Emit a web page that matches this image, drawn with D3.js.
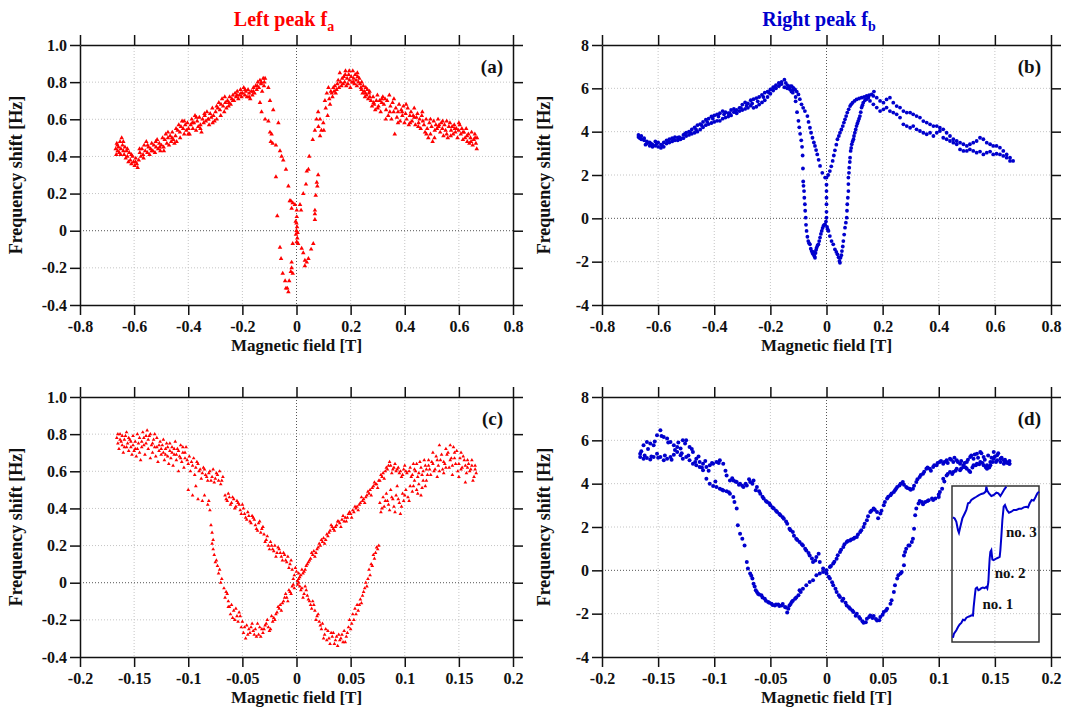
<!DOCTYPE html>
<html>
<head>
<meta charset="utf-8">
<title>frequency shift vs magnetic field</title>
<script src="https://d3js.org/d3.v7.min.js"></script>
<style>
    html,body { margin:0; background:white; }
    text { font-family:'Liberation Serif','Times New Roman',serif; font-weight:bold; fill:#111; }
</style>
</head>
<body>
<svg id="fig" width="1075" height="710"></svg>
<script>

//DATA
let xTicksWide   = [-0.8,-0.6,-0.4,-0.2,0,0.2,0.4,0.6,0.8]
let xTicksNarrow = [-0.2,-0.15,-0.1,-0.05,0,0.05,0.1,0.15,0.2]
let yTicksLeft   = [-0.4,-0.2,0,0.2,0.4,0.6,0.8,1.0]
let yTicksRight  = [-4,-2,0,2,4,6,8]
let titles = ['Left peak f','Right peak f']
let titleSubs = ['a','b']
let panelLabels = ['(a)','(b)','(c)','(d)']
let xTitle = 'Magnetic field [T]'
let yTitle = 'Frequency shift [Hz]'
let insetLabels = ['no. 1','no. 2','no. 3']

// (a) left peak, full sweep
let aPts = [
[-0.668,0.44],[-0.666,0.41],[-0.664,0.47],[-0.661,0.43],[-0.658,0.45],[-0.655,0.42],[-0.652,0.48],[-0.649,0.44],[-0.646,0.5],[-0.643,0.46],[-0.64,0.43],
[-0.637,0.41],[-0.634,0.45],[-0.631,0.39],[-0.628,0.43],[-0.625,0.4],[-0.621,0.37],[-0.618,0.42],[-0.614,0.38],[-0.61,0.36],[-0.606,0.4],[-0.602,0.37],[-0.598,0.35],[-0.594,0.39],[-0.59,0.36],[-0.587,0.34],[-0.583,0.38],
[-0.579,0.42],[-0.575,0.4],[-0.571,0.44],[-0.567,0.41],[-0.563,0.46],[-0.559,0.43],[-0.555,0.48],[-0.551,0.42],[-0.547,0.45],[-0.543,0.41],[-0.539,0.44],[-0.535,0.47],[-0.531,0.43],[-0.527,0.46],[-0.523,0.42],[-0.519,0.45],[-0.515,0.49],[-0.511,0.44],[-0.507,0.47],[-0.503,0.43],[-0.499,0.46],[-0.495,0.5],[-0.491,0.45],
[-0.487,0.49],[-0.483,0.52],[-0.479,0.47],[-0.475,0.5],[-0.471,0.46],[-0.467,0.51],[-0.463,0.48],[-0.459,0.53],[-0.455,0.49],[-0.451,0.47],[-0.447,0.51],[-0.443,0.48],
[-0.439,0.54],[-0.435,0.57],[-0.431,0.53],[-0.427,0.56],[-0.423,0.59],[-0.419,0.55],[-0.415,0.52],[-0.411,0.57],[-0.407,0.54],[-0.403,0.58],[-0.399,0.55],[-0.395,0.52],
[-0.391,0.57],[-0.387,0.6],[-0.383,0.55],[-0.379,0.58],[-0.375,0.62],[-0.371,0.54],[-0.367,0.59],[-0.363,0.56],[-0.359,0.61],[-0.355,0.57],[-0.351,0.53],[-0.347,0.6],[-0.343,0.58],
[-0.339,0.62],[-0.335,0.59],[-0.331,0.64],[-0.327,0.6],[-0.323,0.57],[-0.319,0.63],[-0.315,0.61],[-0.311,0.66],[-0.307,0.62],[-0.303,0.59],[-0.299,0.64],[-0.295,0.6],
[-0.291,0.66],[-0.287,0.69],[-0.283,0.65],[-0.279,0.68],[-0.275,0.71],[-0.271,0.67],[-0.267,0.64],[-0.263,0.69],[-0.259,0.66],[-0.255,0.7],[-0.251,0.67],[-0.247,0.72],[-0.243,0.68],
[-0.239,0.71],[-0.235,0.73],[-0.231,0.7],[-0.227,0.74],[-0.223,0.72],[-0.219,0.75],[-0.215,0.71],[-0.211,0.73],[-0.207,0.76],[-0.203,0.72],
[-0.199,0.74],[-0.195,0.77],[-0.191,0.73],[-0.187,0.75],[-0.183,0.72],[-0.179,0.76],[-0.175,0.74],[-0.171,0.71],[-0.167,0.75],[-0.163,0.73],[-0.159,0.77],[-0.155,0.74],
[-0.151,0.78],[-0.147,0.76],[-0.143,0.8],[-0.139,0.77],[-0.135,0.81],[-0.131,0.79],[-0.127,0.75],[-0.123,0.82],[-0.119,0.8],[-0.116,0.82],
[-0.662,0.46],[-0.65,0.41],[-0.64,0.48],[-0.625,0.44],[-0.61,0.41],[-0.595,0.37],[-0.58,0.44],[-0.565,0.39],[-0.55,0.46],[-0.535,0.43],[-0.52,0.48],
[-0.505,0.45],[-0.49,0.43],[-0.475,0.53],[-0.46,0.5],[-0.445,0.55],[-0.43,0.5],[-0.415,0.59],[-0.4,0.52],[-0.385,0.58],[-0.37,0.61],[-0.355,0.55],
[-0.34,0.63],[-0.325,0.6],[-0.31,0.58],[-0.295,0.67],[-0.28,0.62],[-0.265,0.72],[-0.25,0.69],[-0.235,0.7],[-0.22,0.73],[-0.205,0.74],[-0.19,0.76],
[-0.175,0.72],[-0.16,0.75],[-0.145,0.78],[-0.13,0.8],[-0.12,0.78],
[-0.104,0.77],[-0.098,0.7],[-0.135,0.69],[-0.129,0.64],[-0.116,0.6],[-0.104,0.59],[-0.086,0.65],[-0.067,0.58],[-0.098,0.53],[-0.092,0.52],[-0.095,0.48],
[-0.088,0.47],[-0.076,0.46],[-0.061,0.43],[-0.055,0.4],[-0.049,0.38],[-0.039,0.33],[-0.076,0.29],[-0.03,0.24],[-0.021,0.16],[-0.014,0.15],[-0.006,0.14],
[-0.018,0.12],[0.001,0.11],[0.013,0.14],[0.017,0.11],[0.001,0.075],[0.0,0.04],[0.002,0.02],[0.0,0.0],[-0.002,-0.02],[0.003,-0.04],[0.001,-0.06],[0.006,-0.07],
[-0.014,-0.07],[0.019,-0.095],[0.025,-0.12],[0.031,-0.16],[0.031,-0.19],[0.038,-0.17],[0.044,-0.15],[0.054,-0.1],[0.062,-0.07],[0.004,-0.01],[-0.003,0.05],
[-0.061,-0.09],[-0.057,-0.15],[-0.051,-0.23],[-0.042,-0.27],[-0.034,-0.31],[-0.03,-0.33],[-0.039,-0.31],[-0.027,-0.27],[-0.021,-0.22],[-0.018,-0.2],[-0.018,-0.17],
[-0.071,0.08],[-0.025,0.16],[-0.014,-0.23],
[0.047,0.4],[0.038,0.32],[0.044,0.33],[0.035,0.25],[0.025,0.2],[0.06,0.49],[0.068,0.54],[0.074,0.6],[0.08,0.64],[0.081,0.56],[0.087,0.51],[0.087,0.6],
[0.092,0.54],[0.099,0.58],[0.101,0.54],[0.08,0.3],[0.075,0.26],[0.077,0.24],[0.071,0.19],[0.068,0.11],[0.068,0.09],[0.068,0.06],
[0.105,0.7],[0.108,0.66],[0.112,0.74],[0.115,0.62],[0.118,0.77],[0.121,0.71],[0.124,0.68],[0.127,0.75],[0.13,0.74],[0.133,0.72],[0.136,0.77],
[0.139,0.75],[0.142,0.78],[0.145,0.74],[0.148,0.76],[0.151,0.79],[0.154,0.81],[0.157,0.77],[0.16,0.85],[0.163,0.8],[0.166,0.78],[0.169,0.82],[0.172,0.79],
[0.175,0.83],[0.178,0.8],[0.181,0.86],[0.184,0.78],[0.187,0.82],[0.19,0.79],[0.193,0.84],[0.196,0.81],[0.199,0.77],[0.202,0.83],[0.205,0.8],[0.208,0.86],
[0.211,0.82],[0.214,0.79],[0.217,0.84],[0.22,0.81],[0.223,0.78],[0.226,0.83],[0.229,0.8],[0.232,0.82],[0.235,0.79],
[0.238,0.77],[0.241,0.8],[0.244,0.74],[0.247,0.78],[0.25,0.75],[0.253,0.72],[0.256,0.77],[0.259,0.73],[0.262,0.76],[0.265,0.71],[0.268,0.74],[0.271,0.72],
[0.275,0.7],[0.279,0.67],[0.283,0.72],[0.287,0.68],[0.291,0.65],[0.295,0.7],[0.299,0.73],[0.303,0.67],[0.307,0.7],[0.311,0.64],[0.315,0.69],[0.319,0.72],
[0.323,0.68],[0.327,0.71],[0.331,0.65],[0.335,0.7],[0.339,0.62],[0.343,0.73],[0.347,0.67],[0.351,0.6],[0.355,0.69],[0.359,0.64],[0.363,0.52],[0.367,0.66],[0.371,0.61],
[0.375,0.64],[0.379,0.68],[0.383,0.59],[0.387,0.65],[0.391,0.62],[0.395,0.67],[0.399,0.58],[0.403,0.63],[0.407,0.6],[0.411,0.66],[0.415,0.57],[0.419,0.62],
[0.423,0.64],[0.427,0.59],[0.431,0.62],[0.435,0.66],[0.439,0.57],[0.443,0.61],[0.447,0.63],[0.451,0.58],[0.455,0.6],[0.459,0.55],[0.463,0.62],[0.467,0.59],
[0.471,0.57],[0.475,0.53],[0.479,0.6],[0.483,0.55],[0.487,0.5],[0.491,0.58],[0.495,0.52],[0.499,0.56],[0.503,0.48],[0.507,0.59],[0.511,0.54],[0.515,0.57],
[0.519,0.55],[0.523,0.6],[0.527,0.57],[0.531,0.53],[0.535,0.58],[0.539,0.55],[0.543,0.51],[0.547,0.57],[0.551,0.54],[0.555,0.59],[0.559,0.5],[0.563,0.56],
[0.567,0.58],[0.571,0.54],[0.575,0.56],[0.579,0.52],[0.583,0.57],[0.587,0.53],[0.591,0.55],[0.595,0.5],[0.599,0.54],[0.603,0.57],[0.607,0.52],[0.611,0.55],[0.615,0.49],
[0.619,0.53],[0.623,0.5],[0.627,0.55],[0.631,0.48],[0.635,0.52],[0.639,0.47],[0.643,0.5],[0.647,0.53],[0.651,0.46],[0.655,0.49],[0.659,0.52],[0.663,0.47],[0.666,0.44],[0.667,0.5],
[0.18,0.84],[0.195,0.86],[0.21,0.8],[0.225,0.85],[0.24,0.76],[0.255,0.74],[0.27,0.75],[0.285,0.69],[0.3,0.66],[0.315,0.71],[0.33,0.6],[0.345,0.64],
[0.36,0.71],[0.375,0.58],[0.39,0.64],[0.405,0.68],[0.42,0.58],[0.435,0.61],[0.45,0.56],[0.465,0.64],[0.48,0.52],[0.495,0.6],[0.51,0.5],[0.525,0.56],
[0.54,0.59],[0.555,0.52],[0.57,0.51],[0.585,0.55],[0.6,0.58],[0.615,0.53],[0.63,0.51],[0.645,0.48],[0.66,0.5]
]

// (b) right peak, full sweep (two passes)
let bPts = [
[-0.67,3.85],[-0.67,3.75],[-0.66,3.8],[-0.66,3.65],[-0.65,3.6],[-0.65,3.7],[-0.64,3.45],[-0.64,3.55],[-0.63,3.35],[-0.63,3.5],[-0.62,3.4],[-0.62,3.3],
[-0.61,3.55],[-0.61,3.35],[-0.6,3.5],[-0.6,3.3],[-0.59,3.25],[-0.59,3.4],[-0.58,3.3],[-0.58,3.5],[-0.57,3.6],[-0.57,3.45],[-0.56,3.65],[-0.56,3.5],
[-0.55,3.7],[-0.55,3.55],[-0.54,3.75],[-0.54,3.6],[-0.53,3.72],[-0.53,3.6],[-0.52,3.7],[-0.52,3.65],[-0.51,3.85],[-0.51,3.7],[-0.5,3.95],[-0.5,3.8],
[-0.49,4.0],[-0.49,3.85],[-0.48,4.1],[-0.48,3.9],[-0.47,4.2],[-0.47,3.95],[-0.46,4.3],[-0.46,4.0],[-0.45,4.35],[-0.45,4.1],[-0.44,4.45],[-0.44,4.2],
[-0.43,4.55],[-0.43,4.3],[-0.42,4.6],[-0.42,4.35],[-0.41,4.7],[-0.41,4.4],[-0.4,4.75],[-0.4,4.45],[-0.39,4.8],[-0.39,4.5],[-0.38,4.85],[-0.38,4.5],
[-0.37,4.95],[-0.37,4.6],[-0.36,4.9],[-0.36,4.65],[-0.35,4.85],[-0.35,4.7],[-0.34,5.0],[-0.34,4.75],[-0.33,5.05],[-0.33,4.9],[-0.32,5.0],[-0.32,4.85],
[-0.31,5.1],[-0.31,4.95],[-0.3,5.25],[-0.3,5.0],[-0.29,5.35],[-0.29,5.05],[-0.28,5.3],[-0.28,5.1],[-0.27,5.45],[-0.27,5.2],[-0.26,5.5],[-0.26,5.1],
[-0.25,5.55],[-0.25,5.15],[-0.24,5.6],[-0.24,5.25],[-0.23,5.7],[-0.23,5.35],[-0.22,5.8],[-0.22,5.45],[-0.21,5.85],[-0.21,5.6],[-0.2,5.95],[-0.2,5.75],
[-0.19,6.05],[-0.19,5.9],[-0.18,6.15],[-0.18,6.0],[-0.17,6.25],[-0.17,6.1],[-0.16,6.2],[-0.16,6.3],[-0.15,6.4],[-0.15,6.05],[-0.14,6.15],[-0.14,6.0],
[-0.13,6.1],[-0.13,5.95],[-0.12,5.8],[-0.12,5.9],[-0.11,5.4],[-0.11,5.6],
[-0.665,3.7],[-0.645,3.4],[-0.625,3.45],[-0.605,3.45],[-0.585,3.35],[-0.565,3.55],[-0.545,3.65],[-0.525,3.75],[-0.505,3.9],[-0.485,3.95],[-0.465,4.1],
[-0.445,4.3],[-0.425,4.45],[-0.405,4.6],[-0.385,4.7],[-0.365,4.8],[-0.345,4.85],[-0.325,4.95],[-0.305,5.1],[-0.285,5.2],[-0.265,5.3],[-0.245,5.4],
[-0.225,5.6],[-0.205,5.8],[-0.185,6.05],[-0.165,6.2],[-0.145,6.25],[-0.135,6.05],[-0.125,5.85],
[-0.105,4.9],[-0.1,4.5],[-0.097,4.2],[-0.094,3.9],[-0.09,3.6],[-0.087,3.3],[-0.085,2.9],[-0.084,2.3],[-0.083,1.7],[-0.082,1.5],[-0.08,1.26],[-0.079,0.95],
[-0.077,0.65],[-0.076,0.35],[-0.074,0.03],[-0.073,-0.3],[-0.071,-0.58],[-0.068,-0.85],[-0.065,-1.05],[-0.062,-1.15],[-0.059,-1.2],[-0.056,-1.4],[-0.053,-1.51],
[-0.05,-1.6],[-0.047,-1.66],[-0.045,-1.55],[-0.043,-1.75],[-0.041,-1.82],[-0.039,-1.6],[-0.037,-1.45],[-0.035,-1.35],[-0.032,-1.25],[-0.029,-1.2],[-0.026,-1.05],
[-0.023,-0.89],[-0.02,-0.72],[-0.017,-0.58],[-0.014,-0.45],[-0.011,-0.35],[-0.008,-0.3],[-0.005,-0.28],[-0.002,-0.15],[0,0.03],[0,0.3],[0,0.65],[0,0.95],
[0,1.26],[0,1.55],[0,1.88],[0.002,-0.4],[0.004,-0.5],
[-0.124,6.1],[-0.118,6.02],[-0.112,5.95],[-0.106,5.85],[-0.1,5.72],[-0.095,5.5],[-0.089,5.26],[-0.083,5.1],[-0.077,4.95],[-0.068,4.72],[-0.064,4.45],
[-0.059,4.18],[-0.055,3.95],[-0.05,3.72],[-0.045,3.5],[-0.041,3.34],[-0.037,3.15],[-0.033,2.95],[-0.028,2.7],[-0.023,2.42],[-0.015,2.1],[-0.005,1.88],
[0.006,2.0],[0.012,2.18],[0.017,2.4],[0.022,2.65],[0.026,2.9],[0.03,3.14],[0.035,3.4],[0.039,3.65],[0.044,3.8],[0.048,3.95],[0.053,4.1],[0.058,4.26],
[0.062,4.42],[0.066,4.57],[0.07,4.72],[0.074,4.88],[0.079,5.03],[0.084,5.18],[0.088,5.26],[0.093,5.34],[0.1,5.42],[0.107,5.49],[0.116,5.53],[0.125,5.57],
[0.134,5.6],[0.143,5.65],[0.152,5.68],[0.161,5.72],[0.169,5.85],
[0.007,-0.58],[0.012,-0.82],[0.018,-1.05],[0.024,-1.2],[0.03,-1.43],[0.035,-1.55],[0.039,-1.66],[0.043,-1.8],[0.046,-1.97],[0.048,-2.05],[0.05,-1.82],
[0.053,-1.7],[0.055,-1.51],[0.058,-1.3],[0.06,-1.05],[0.063,-0.75],[0.066,-0.43],[0.069,-0.2],[0.072,0.03],[0.073,0.35],[0.074,0.65],[0.076,0.95],
[0.078,1.26],[0.078,1.58],[0.078,1.88],[0.08,2.1],[0.081,2.34],[0.083,2.6],[0.084,2.8],[0.086,3.11],[0.088,3.25],[0.09,3.42],[0.093,3.55],[0.096,3.65],
[0.098,3.8],[0.101,3.95],[0.104,4.1],[0.107,4.26],[0.11,4.38],[0.113,4.49],[0.116,4.6],[0.119,4.72],[0.122,4.9],[0.125,5.11],[0.128,5.22],[0.131,5.34],
[0.137,5.45],[0.143,5.5],[0.149,5.57],
[0.167,5.65],[0.179,5.57],[0.191,5.42],[0.203,5.34],[0.214,5.49],[0.226,5.57],[0.238,5.34],[0.25,5.18],[0.262,5.11],[0.274,4.95],[0.286,4.88],[0.298,4.88],
[0.309,4.8],[0.321,4.72],[0.333,4.65],[0.345,4.49],[0.357,4.42],[0.369,4.34],[0.381,4.26],[0.393,4.26],[0.404,4.18],[0.416,4.11],[0.428,3.95],[0.44,3.8],
[0.452,3.65],[0.464,3.57],[0.476,3.49],[0.488,3.42],[0.5,3.34],[0.511,3.42],[0.523,3.49],[0.535,3.57],[0.547,3.72],[0.559,3.65],[0.571,3.49],[0.583,3.42],
[0.594,3.34],[0.606,3.34],[0.618,3.26],[0.63,3.11],[0.642,2.95],[0.654,2.8],[0.665,2.65],
[0.155,5.42],[0.167,5.26],[0.179,5.11],[0.191,4.95],[0.203,5.03],[0.214,5.11],[0.226,4.95],[0.238,4.88],[0.25,4.8],[0.262,4.65],[0.274,4.34],[0.286,4.26],
[0.298,4.18],[0.309,4.26],[0.321,4.11],[0.333,4.03],[0.345,3.95],[0.357,3.88],[0.369,3.95],[0.381,3.8],[0.393,3.95],[0.404,4.03],[0.416,3.72],[0.428,3.65],
[0.44,3.57],[0.452,3.49],[0.464,3.42],[0.476,3.18],[0.488,3.11],[0.5,3.11],[0.511,3.18],[0.523,3.11],[0.535,3.03],[0.547,3.08],[0.559,2.95],[0.571,3.03],
[0.583,3.08],[0.594,2.95],[0.606,2.98],[0.618,2.95],[0.63,2.88],[0.642,2.8],[0.654,2.65]
]

// (c) left peak, narrow sweep
let cPts = [
[-0.166,0.78],[-0.165,0.75],[-0.164,0.72],[-0.163,0.8],[-0.162,0.76],[-0.161,0.74],[-0.16,0.7],[-0.159,0.77],[-0.158,0.79],[-0.157,0.73],[-0.156,0.75],
[-0.155,0.71],[-0.154,0.77],[-0.153,0.73],[-0.152,0.69],[-0.151,0.74],[-0.15,0.71],[-0.149,0.76],[-0.148,0.68],[-0.147,0.72],[-0.146,0.75],[-0.145,0.7],
[-0.144,0.66],[-0.143,0.73],[-0.142,0.81],[-0.141,0.78],[-0.14,0.69],[-0.139,0.75],[-0.138,0.82],[-0.137,0.72],[-0.136,0.79],[-0.135,0.67],[-0.134,0.74],
[-0.133,0.7],[-0.132,0.77],[-0.131,0.8],[-0.13,0.68],[-0.129,0.73],[-0.128,0.65],[-0.127,0.71],[-0.126,0.76],[-0.125,0.69],[-0.124,0.74],[-0.123,0.7],
[-0.122,0.66],[-0.121,0.72],[-0.12,0.75],[-0.119,0.68],[-0.118,0.64],[-0.117,0.71],[-0.116,0.67],[-0.115,0.73],[-0.114,0.63],[-0.113,0.69],[-0.112,0.76],
[-0.111,0.66],[-0.11,0.72],[-0.109,0.6],[-0.108,0.68],[-0.107,0.74],[-0.106,0.65],[-0.105,0.7],[-0.104,0.62],[-0.103,0.67],[-0.102,0.73],
[-0.165,0.8],[-0.163,0.77],[-0.161,0.79],[-0.159,0.73],[-0.157,0.81],[-0.155,0.78],[-0.153,0.76],[-0.151,0.79],[-0.149,0.72],[-0.147,0.8],[-0.145,0.78],
[-0.143,0.76],[-0.141,0.74],[-0.139,0.79],[-0.137,0.77],[-0.135,0.8],[-0.133,0.75],[-0.131,0.73],[-0.129,0.78],[-0.127,0.74],[-0.125,0.72],[-0.123,0.77],
[-0.121,0.69],[-0.119,0.73],[-0.117,0.75],[-0.115,0.7],[-0.113,0.72],[-0.111,0.69],[-0.109,0.71],[-0.107,0.67],[-0.105,0.73],[-0.103,0.7],[-0.101,0.66],
[-0.099,0.68],[-0.097,0.65],[-0.095,0.67],[-0.093,0.62],[-0.091,0.64],[-0.089,0.61],[-0.087,0.59],[-0.085,0.61],[-0.083,0.57],[-0.081,0.59],[-0.079,0.55],
[-0.077,0.61],[-0.075,0.56],[-0.073,0.58],[-0.071,0.6],[-0.069,0.55],
[-0.1,0.64],[-0.098,0.6],[-0.096,0.63],[-0.094,0.58],[-0.092,0.65],[-0.09,0.6],[-0.088,0.56],[-0.086,0.62],[-0.084,0.58],[-0.082,0.55],[-0.08,0.6],
[-0.078,0.57],[-0.076,0.54],[-0.074,0.59],[-0.072,0.55],[-0.07,0.53],[-0.068,0.57],[-0.066,0.47],[-0.064,0.44],[-0.062,0.46],[-0.06,0.43],[-0.058,0.45],
[-0.056,0.41],[-0.054,0.43],[-0.052,0.39],[-0.05,0.42],[-0.048,0.37],[-0.046,0.34],[-0.044,0.36],[-0.042,0.32],[-0.04,0.35],[-0.038,0.31],[-0.036,0.28],
[-0.034,0.33],[-0.032,0.29],[-0.03,0.26],[-0.028,0.23],[-0.026,0.2],[-0.024,0.22],[-0.022,0.18],[-0.02,0.2],[-0.018,0.16],[-0.016,0.18],[-0.014,0.14],
[-0.012,0.16],[-0.01,0.12],[-0.008,0.14],[-0.006,0.1],[-0.004,0.07],[-0.002,0.04],[0.0,0.06],[0.002,0.0],[0.003,-0.02],
[-0.065,0.45],[-0.063,0.48],[-0.061,0.42],[-0.059,0.46],[-0.057,0.4],[-0.055,0.44],[-0.053,0.42],[-0.051,0.37],[-0.049,0.4],[-0.047,0.35],[-0.045,0.38],
[-0.043,0.33],[-0.041,0.36],[-0.039,0.34],[-0.037,0.29],[-0.035,0.32],[-0.033,0.27],[-0.031,0.3],[-0.029,0.22],[-0.027,0.25],[-0.025,0.18],[-0.023,0.2],
[-0.021,0.17],[-0.019,0.14],[-0.017,0.19],[-0.015,0.16],[-0.013,0.12],[-0.011,0.15],[-0.009,0.11],[-0.007,0.08],[-0.005,0.12],[-0.003,0.02],[-0.001,0.08],
[0.001,-0.01],[0.002,0.05],[0.004,-0.04],[0.006,-0.08],[0.008,-0.02],[0.01,-0.07],[0.012,-0.1],[0.014,-0.14],[0.016,-0.12],[0.018,-0.2],[0.02,-0.17],
[0.022,-0.23],[0.025,-0.3],[0.027,-0.25],[0.03,-0.3],[0.032,-0.27],[0.035,-0.33],[0.037,-0.29],[0.04,-0.31],[0.042,-0.28],[0.045,-0.32],[0.047,-0.27],
[0.05,-0.25],[0.053,-0.2],[0.055,-0.17],[0.058,-0.12],[0.06,-0.11],[0.062,-0.05],[0.065,-0.02],[0.067,0.07],[0.069,0.1],[0.071,0.15],[0.074,0.19],
[0.005,-0.03],[0.007,-0.06],[0.009,-0.04],[0.011,-0.09],[0.013,-0.12],[0.015,-0.1],[0.017,-0.15],[0.019,-0.18],[0.021,-0.21],[0.023,-0.25],[0.024,-0.22],
[0.026,-0.28],[0.028,-0.31],[0.029,-0.26],[0.031,-0.33],[0.033,-0.29],[0.034,-0.27],[0.036,-0.31],[0.038,-0.34],[0.039,-0.28],[0.041,-0.3],[0.043,-0.32],
[0.044,-0.26],[0.046,-0.29],[0.048,-0.24],[0.049,-0.2],[0.051,-0.22],[0.052,-0.17],[0.054,-0.14],[0.056,-0.12],[0.057,-0.15],[0.059,-0.09],[0.061,-0.07],
[0.063,-0.03],[0.064,0.0],[0.066,0.02],[0.068,0.04],[0.07,0.09],[0.072,0.13],[0.073,0.16],[0.075,0.18],[0.076,0.2],
[-0.1,0.5],[-0.096,0.47],[-0.093,0.52],[-0.091,0.45],[-0.087,0.44],[-0.085,0.47],[-0.082,0.42],[-0.08,0.39],[-0.079,0.31],[-0.078,0.21],[-0.077,0.18],
[-0.076,0.15],[-0.075,0.11],[-0.073,0.09],[-0.071,0.07],[-0.069,0.02],[-0.067,-0.03],[-0.065,-0.05],[-0.064,-0.06],[-0.063,-0.1],[-0.062,-0.13],[-0.061,-0.17],
[-0.059,-0.19],[-0.058,-0.15],[-0.056,-0.14],[-0.055,-0.18],[-0.053,-0.16],[-0.052,-0.18],[-0.05,-0.21],[-0.048,-0.24],[-0.047,-0.3],[-0.046,-0.23],[-0.044,-0.25],
[-0.043,-0.27],[-0.041,-0.22],[-0.04,-0.26],[-0.038,-0.25],[-0.037,-0.29],[-0.035,-0.28],[-0.034,-0.24],[-0.032,-0.25],[-0.031,-0.27],[-0.029,-0.23],
[-0.027,-0.2],[-0.025,-0.26],[-0.024,-0.25],[-0.022,-0.21],[-0.021,-0.19],[-0.019,-0.17],[-0.018,-0.16],[-0.016,-0.14],[-0.015,-0.12],[-0.013,-0.11],
[-0.012,-0.1],[-0.01,-0.06],[-0.009,-0.08],[-0.007,-0.04],[-0.006,-0.05],[-0.004,-0.02],[-0.002,-0.03],[0.001,0.01],[0.003,0.03],[0.004,0.04],
[-0.081,0.44],[-0.078,0.27],[-0.077,0.23],[-0.074,0.12],[-0.072,0.05],[-0.07,0.0],[-0.066,-0.08],[-0.063,-0.13],[-0.06,-0.12],[-0.057,-0.2],[-0.054,-0.21],
[-0.051,-0.24],[-0.049,-0.27],[-0.045,-0.28],[-0.042,-0.24],[-0.039,-0.28],[-0.036,-0.22],[-0.033,-0.29],[-0.03,-0.25],[-0.028,-0.22],[-0.026,-0.24],
[-0.023,-0.18],[-0.02,-0.2],[-0.017,-0.13],[-0.014,-0.15],[-0.011,-0.08],[-0.008,-0.1],[-0.005,-0.06],[-0.003,-0.01],[0.002,0.02],[0.005,0.07],
[0.008,0.07],[0.011,0.11],[0.014,0.16],[0.017,0.14],[0.02,0.19],[0.023,0.23],[0.026,0.21],[0.029,0.25],[0.032,0.31],[0.035,0.28],[0.038,0.33],
[0.041,0.3],[0.043,0.36],[0.046,0.33],[0.049,0.38],[0.051,0.35],[0.054,0.41],[0.057,0.39],[0.06,0.46],[0.063,0.43],[0.066,0.49],[0.069,0.47],
[0.072,0.54],[0.075,0.51],[0.078,0.58],[0.081,0.56],[0.084,0.61],[0.086,0.65],[0.088,0.59],[0.091,0.64],[0.094,0.62],[0.097,0.57],[0.1,0.63],
[0.006,0.05],[0.007,0.06],[0.009,0.09],[0.01,0.1],[0.012,0.12],[0.013,0.13],[0.015,0.15],[0.016,0.17],[0.018,0.16],[0.019,0.18],[0.021,0.21],[0.022,0.2],
[0.024,0.22],[0.025,0.24],[0.027,0.23],[0.028,0.26],[0.03,0.27],[0.031,0.28],[0.033,0.3],[0.034,0.29],[0.036,0.3],[0.037,0.31],[0.039,0.33],[0.04,0.32],
[0.042,0.34],[0.044,0.33],[0.045,0.35],[0.047,0.35],[0.048,0.37],[0.05,0.37],[0.052,0.39],[0.053,0.38],[0.055,0.4],[0.056,0.41],[0.058,0.42],[0.059,0.43],
[0.061,0.44],[0.062,0.45],[0.064,0.46],[0.065,0.47],[0.067,0.48],[0.068,0.5],[0.07,0.51],[0.071,0.52],[0.073,0.53],[0.074,0.53],[0.076,0.55],[0.077,0.55],
[0.079,0.57],[0.08,0.59],[0.082,0.6],[0.083,0.62],[0.085,0.63],[0.087,0.63],[0.089,0.61],[0.09,0.62],[0.092,0.6],[0.093,0.61],[0.095,0.59],[0.096,0.6],
[0.098,0.58],[0.099,0.61],[0.101,0.6],[0.102,0.59],[0.104,0.6],
[0.077,0.43],[0.078,0.38],[0.08,0.46],[0.081,0.41],[0.083,0.48],[0.084,0.44],[0.086,0.39],[0.087,0.5],[0.089,0.45],[0.09,0.41],[0.092,0.47],[0.093,0.52],
[0.095,0.43],[0.096,0.37],[0.098,0.48],[0.099,0.44],[0.101,0.5],[0.103,0.46],[0.105,0.52],[0.107,0.49],[0.109,0.55],[0.111,0.5],[0.113,0.53],[0.115,0.47],
[0.117,0.55],[0.119,0.52],
[0.079,0.4],[0.082,0.44],[0.085,0.42],[0.088,0.46],[0.091,0.38],[0.094,0.45],[0.097,0.41],[0.1,0.47],[0.104,0.44],[0.108,0.52],[0.112,0.48],[0.116,0.51],[0.12,0.55],
[0.105,0.62],[0.107,0.58],[0.109,0.61],[0.111,0.64],[0.113,0.59],[0.115,0.62],[0.117,0.6],[0.119,0.63],[0.121,0.58],[0.123,0.61],[0.125,0.65],[0.127,0.6],
[0.129,0.68],[0.131,0.63],[0.133,0.66],[0.135,0.61],[0.137,0.64],[0.139,0.69],[0.141,0.62],[0.143,0.67],[0.145,0.73],[0.147,0.64],[0.149,0.6],[0.151,0.67],
[0.153,0.62],[0.155,0.66],[0.157,0.59],[0.159,0.64],[0.161,0.61],[0.163,0.55],[0.165,0.63],[0.166,0.59],[0.122,0.66],[0.126,0.7],[0.132,0.74],[0.138,0.72],
[0.142,0.74],[0.146,0.7],[0.152,0.7],[0.158,0.62],[0.162,0.66],[0.13,0.57],[0.136,0.59],[0.144,0.58],[0.15,0.57],[0.156,0.54],
[0.106,0.57],[0.108,0.64],[0.11,0.6],[0.112,0.57],[0.114,0.65],[0.116,0.58],[0.118,0.66],[0.12,0.61],[0.122,0.63],[0.124,0.58],[0.126,0.64],[0.128,0.61],
[0.13,0.66],[0.132,0.6],[0.134,0.69],[0.136,0.65],[0.138,0.62],[0.14,0.7],[0.142,0.66],[0.144,0.63],[0.146,0.67],[0.148,0.71],[0.15,0.64],[0.152,0.61],
[0.154,0.68],[0.156,0.63],[0.158,0.66],[0.16,0.6],[0.162,0.63],[0.164,0.57],[0.165,0.61]
]

// (d) right peak, narrow sweep (two passes)
let dPts = [
[-0.166,5.38],[-0.163,5.77],[-0.16,5.92],[-0.157,5.85],[-0.154,5.77],[-0.151,6.23],[-0.148,6.46],[-0.145,6.15],[-0.142,6.08],[-0.139,5.92],[-0.136,5.77],
[-0.133,5.69],[-0.13,5.62],[-0.128,6.0],[-0.125,6.0],[-0.122,5.69],[-0.119,5.46],[-0.116,5.15],[-0.113,5.0],[-0.11,4.92],[-0.107,4.77],[-0.104,4.85],
[-0.101,4.92],[-0.098,5.0],[-0.095,5.08],[-0.092,4.92],[-0.089,4.38],[-0.086,4.15],[-0.083,4.15],[-0.08,4.08],[-0.077,4.0],[-0.074,3.85],[-0.071,3.92],
[-0.068,4.08],[-0.065,4.15],[-0.062,3.85],[-0.059,3.54],[-0.056,3.31],[-0.053,3.15],[-0.05,3.0],[-0.047,2.85],[-0.044,2.69],[-0.041,2.54],[-0.038,2.38],
[-0.035,2.15],[-0.033,1.92],[-0.03,1.77],[-0.027,1.46],[-0.024,1.31],[-0.021,1.15],[-0.018,0.92],[-0.015,0.69],[-0.012,0.38],[-0.009,0.62],[-0.007,0.77],
[-0.006,0.38],[-0.003,0.08],[0.0,-0.15],[0.003,-0.38],[0.006,-0.69],[0.009,-1.0],[0.012,-1.23],[0.015,-1.31],[0.018,-1.62],[0.021,-1.77],[0.024,-1.92],
[0.027,-2.0],[0.03,-2.23],[0.033,-2.42],[0.036,-2.23],[0.039,-2.08],[0.042,-2.11],[0.045,-2.31],[0.048,-2.15],[0.051,-1.92],[0.054,-1.77],[0.057,-1.54],
[0.058,-1.38],[0.06,-1.0],[0.061,-0.69],[0.063,-0.38],[0.064,-0.23],[0.066,-0.15],[0.067,-0.08],[0.069,0.23],[0.069,0.69],[0.07,0.85],[0.071,1.0],
[0.073,1.15],[0.074,1.15],[0.076,1.31],[0.077,1.46],[0.078,1.92],[0.079,2.54],[0.08,2.85],[0.082,3.08],[0.085,3.15],[0.088,3.15],[0.091,3.23],[0.094,3.31],
[0.097,3.31],[0.1,3.38],[0.101,3.62],[0.103,3.77],[0.104,4.23],[0.107,4.38],[0.11,4.54],[0.113,4.54],[0.116,4.69],[0.119,4.62],[0.122,4.77],[0.125,4.69],
[0.128,4.54],[0.131,4.85],[0.134,4.92],[0.137,5.0],[0.14,4.85],[0.143,4.69],[0.146,4.85],[0.149,5.15],[0.152,5.08],[0.155,5.0],[0.158,4.92],[0.16,5.0],[0.163,4.92],
[-0.166,5.23],[-0.163,5.15],[-0.16,5.18],[-0.157,5.12],[-0.154,5.23],[-0.151,5.38],[-0.148,5.23],[-0.145,5.08],[-0.142,5.15],[-0.139,5.23],[-0.136,5.34],
[-0.133,5.46],[-0.13,5.31],[-0.128,5.15],[-0.125,5.23],[-0.122,5.08],[-0.119,4.92],[-0.116,4.85],[-0.113,4.77],[-0.11,4.62],[-0.107,4.23],[-0.104,4.0],
[-0.101,3.89],[-0.098,3.85],[-0.095,3.77],[-0.092,3.69],[-0.089,3.65],[-0.086,3.54],[-0.083,3.38],[-0.082,3.15],[-0.08,2.85],[-0.079,2.08],[-0.077,1.69],
[-0.075,1.46],[-0.073,1.15],[-0.071,0.38],[-0.07,0.08],[-0.068,-0.15],[-0.066,-0.38],[-0.065,-0.62],[-0.063,-0.92],[-0.061,-1.08],[-0.058,-1.15],[-0.055,-1.31],
[-0.052,-1.46],[-0.049,-1.54],[-0.046,-1.62],[-0.043,-1.58],[-0.04,-1.62],[-0.037,-1.69],[-0.034,-1.77],[-0.033,-1.62],[-0.031,-1.46],[-0.028,-1.31],
[-0.025,-1.15],[-0.024,-0.92],[-0.021,-0.85],[-0.018,-0.69],[-0.015,-0.54],[-0.012,-0.46],[-0.009,-0.23],[-0.006,-0.15],[-0.003,-0.08],[0.0,0.0],
[0.003,0.15],[0.006,0.31],[0.009,0.54],[0.012,0.85],[0.015,1.08],[0.018,1.31],[0.021,1.38],[0.024,1.46],[0.027,1.54],[0.03,1.77],[0.033,2.0],[0.036,2.31],
[0.039,2.69],[0.042,2.85],[0.045,2.69],[0.048,2.62],[0.051,3.0],[0.054,3.31],[0.057,3.46],[0.06,3.62],[0.062,3.77],[0.065,3.92],[0.068,4.08],[0.071,3.85],
[0.074,3.77],[0.077,3.77],[0.08,4.08],[0.083,4.31],[0.086,4.46],[0.089,4.69],[0.092,4.69],[0.095,4.77],[0.098,4.85],[0.101,5.0],[0.104,4.92],[0.107,5.08],
[0.11,5.15],[0.113,5.0],[0.116,5.08],[0.119,4.92],[0.122,4.85],[0.125,5.0],[0.128,5.23],[0.131,5.15],[0.134,5.38],[0.137,5.46],[0.14,5.23],[0.143,4.85],
[0.146,5.0],[0.149,5.46],[0.152,5.31],[0.155,5.15],[0.158,5.08],[0.16,5.0],[0.163,4.92],
[-0.165,5.5],[-0.162,5.3],[-0.159,5.6],[-0.156,5.25],[-0.153,5.95],[-0.15,5.2],[-0.147,6.2],[-0.144,5.3],[-0.141,5.9],[-0.138,5.1],[-0.135,5.55],
[-0.132,5.9],[-0.129,5.4],[-0.126,5.85],[-0.123,5.3],[-0.12,5.6],[-0.117,5.0],[-0.114,5.25],[-0.111,4.75],[-0.108,5.05],[-0.105,4.6],[-0.102,4.95],
[-0.099,4.1],[-0.096,4.95],[-0.093,3.72],[-0.09,4.6],[-0.087,3.6],[-0.084,4.25],[-0.081,4.1],[-0.078,3.95],[-0.075,3.9],[-0.072,4.0],[-0.069,4.2],
[-0.066,4.0],[-0.063,3.7],[-0.06,3.65],[-0.057,3.4],[-0.054,3.2],[-0.051,3.1],[-0.048,2.9],[-0.045,2.75],[-0.042,2.6],[-0.039,2.45],[-0.036,2.25],
[-0.032,1.85],[-0.029,1.6],[-0.026,1.4],[-0.022,1.2],[-0.019,1.0],[-0.016,0.8],[-0.013,0.55],[-0.01,0.45],
[0.002,-0.3],[0.005,-0.55],[0.008,-0.85],[0.011,-1.15],[0.014,-1.4],[0.017,-1.5],[0.02,-1.7],[0.023,-1.85],[0.026,-2.1],[0.029,-2.15],[0.032,-2.35],
[0.035,-2.4],[0.038,-2.15],[0.041,-2.2],[0.044,-2.25],[0.047,-2.3],[0.05,-2.05],[0.053,-1.85],
[-0.067,-0.25],[-0.064,-0.75],[-0.062,-1.0],[-0.06,-1.12],[-0.057,-1.25],[-0.054,-1.4],[-0.051,-1.5],[-0.048,-1.6],[-0.045,-1.58],[-0.042,-1.65],
[-0.039,-1.55],[-0.036,-1.72],[-0.035,-1.95],[-0.032,-1.55],[-0.03,-1.4],[-0.027,-1.25],[-0.023,-1.0],
[0.004,0.2],[0.007,0.4],[0.01,0.7],[0.013,0.95],[0.016,1.2],[0.019,1.35],[0.022,1.42],[0.025,1.5],[0.028,1.65],[0.031,1.85],[0.034,2.15],[0.037,2.5],
[0.04,2.75],[0.043,2.8],[0.046,2.4],[0.049,2.75],[0.052,3.15],[0.055,3.4],[0.058,3.55],[0.061,3.7],[0.063,3.85],[0.066,4.0],[0.069,3.95],[0.072,3.8],
[0.075,3.72],[0.078,3.9],[0.081,4.2],[0.084,4.4],[0.087,4.55],[0.09,4.75],[0.093,4.6],[0.096,4.85],
[0.099,4.95],[0.102,5.05],[0.105,5.0],[0.108,4.95],[0.111,5.1],[0.114,5.2],[0.117,5.0],[0.12,5.05],[0.123,4.95],[0.126,5.1],[0.129,5.3],[0.132,5.35],
[0.135,5.2],[0.138,5.4],[0.141,5.1],[0.144,5.3],[0.147,5.2],[0.15,5.25],[0.153,5.4],[0.156,5.2],[0.159,5.1],[0.161,4.95],[0.163,5.05],
[0.1,3.5],[0.095,3.25],[0.09,3.2],[0.086,3.05],[0.083,3.2],[0.105,4.1],[0.108,4.45],[0.112,4.45],[0.115,4.6],[0.12,4.7],[0.124,4.75],[0.127,4.6],
[0.13,4.75],[0.133,4.85],[0.136,4.9],[0.139,4.95],[0.142,4.75],[0.145,4.75],[0.148,5.0],[0.151,5.0]
]

// inset of (d): fractions of the inset box, x to the right, y upward
let insetLow = [
[0.011,0.028],[0.023,0.054],[0.05,0.075],[0.069,0.096],[0.088,0.113],[0.107,0.122],[0.126,0.143],[0.146,0.139],[0.165,0.156],[0.184,0.161],[0.203,0.165],
[0.222,0.171],[0.241,0.169],[0.249,0.225],[0.261,0.289],[0.272,0.343],[0.287,0.349],[0.303,0.332],[0.318,0.336],[0.337,0.345],[0.356,0.349],[0.375,0.345],
[0.395,0.353],[0.406,0.343],[0.418,0.385],[0.425,0.46],[0.433,0.535],[0.441,0.578],[0.452,0.589],[0.464,0.529],[0.479,0.525],[0.502,0.533],[0.529,0.54],
[0.548,0.546],[0.556,0.589],[0.567,0.675],[0.579,0.782],[0.594,0.867],[0.609,0.878],[0.632,0.846],[0.655,0.829],[0.682,0.835],[0.709,0.846],[0.739,0.846],
[0.77,0.854],[0.797,0.854],[0.824,0.863],[0.854,0.867],[0.874,0.863],[0.893,0.889],[0.916,0.91],[0.939,0.906],[0.962,0.931],[0.981,0.953],[1.0,0.964]
]
let insetHigh = [
[0.011,0.799],[0.031,0.792],[0.05,0.771],[0.069,0.717],[0.08,0.7],[0.096,0.739],[0.119,0.792],[0.146,0.824],[0.165,0.846],[0.184,0.889],[0.203,0.893],
[0.222,0.91],[0.249,0.921],[0.28,0.931],[0.31,0.942],[0.337,0.949],[0.364,0.953],[0.387,0.964],[0.395,0.996],[0.406,0.97],[0.425,0.953],[0.452,0.936],
[0.479,0.942],[0.51,0.957],[0.533,0.953],[0.556,0.936],[0.579,0.957],[0.602,0.979],[0.625,0.996]
]
let insetLabelPos = [[0.35,0.21],[0.49,0.41],[0.62,0.67]]

//LAYOUT
let RED = '#ff0000'
let BLUE = '#0000cd'
let FONT = "'Liberation Serif','Times New Roman',serif"

let panels = [
    {x0:80,  x1:513,  y0:45,  y1:305, xd:[-0.8,0.8], xt:xTicksWide,   yd:[-0.4,1], yt:yTicksLeft,  pts:aPts, mark:'tri', size:9,   col:RED,  ylx:22},
    {x0:602, x1:1051, y0:45,  y1:305, xd:[-0.8,0.8], xt:xTicksWide,   yd:[-4,8],   yt:yTicksRight, pts:bPts, mark:'dot', size:1.9, col:BLUE, ylx:550},
    {x0:80,  x1:513,  y0:397, y1:657, xd:[-0.2,0.2], xt:xTicksNarrow, yd:[-0.4,1], yt:yTicksLeft,  pts:cPts, mark:'tri', size:6,   col:RED,  ylx:22},
    {x0:602, x1:1051, y0:397, y1:657, xd:[-0.2,0.2], xt:xTicksNarrow, yd:[-4,8],   yt:yTicksRight, pts:dPts, mark:'dot', size:2,   col:BLUE, ylx:550}
]

let svg = d3.select('#fig')
svg.append('rect').attr('width',1075).attr('height',710).attr('fill','white')

panels.forEach(drawPanel)
drawTitles()
drawInset(panels[3])

function fmtY(d){
    if (d === 1) return '1.0'
    return String(d)
}

function styleAxis(g){
    g.attr('font-family',FONT).attr('font-size',16).attr('font-weight','bold')
    g.selectAll('path,line').attr('stroke','#111').attr('stroke-width',1.5)
    g.selectAll('text').attr('fill','#111')
}

function drawPanel(p,i){
    let g = svg.append('g')
    let x = d3.scaleLinear().domain(p.xd).range([p.x0,p.x1])
    let y = d3.scaleLinear().domain(p.yd).range([p.y1,p.y0])

    //GRID
    g.selectAll('line.gx').data(p.xt.slice(1,-1)).join('line')
        .attr('x1',d=>x(d)).attr('x2',d=>x(d)).attr('y1',p.y0).attr('y2',p.y1)
        .attr('stroke',d=>d===0?'#555':'#c4c4c4').attr('stroke-width',1).attr('stroke-dasharray','1,2')
    g.selectAll('line.gy').data(p.yt.slice(1,-1)).join('line')
        .attr('y1',d=>y(d)).attr('y2',d=>y(d)).attr('x1',p.x0).attr('x2',p.x1)
        .attr('stroke',d=>d===0?'#555':'#c4c4c4').attr('stroke-width',1).attr('stroke-dasharray','1,2')

    //MARKS
    if (p.mark === 'tri'){
        let sym = d3.symbol(d3.symbolTriangle, p.size)
        g.selectAll('path.m').data(p.pts).join('path')
            .attr('d',sym)
            .attr('transform',d=>'translate('+x(d[0])+','+y(d[1])+')')
            .attr('fill',p.col)
    } else {
        g.selectAll('circle').data(p.pts).join('circle')
            .attr('cx',d=>x(d[0])).attr('cy',d=>y(d[1])).attr('r',p.size)
            .attr('fill',p.col)
    }

    //AXES
    g.append('g').attr('transform','translate(0,'+p.y1+')')
        .call(d3.axisBottom(x).tickValues(p.xt).tickSize(10).tickSizeOuter(0).tickPadding(6).tickFormat(String))
        .call(styleAxis)
    g.append('g').attr('transform','translate(0,'+p.y0+')')
        .call(d3.axisTop(x).tickValues(p.xt).tickSize(10).tickSizeOuter(0).tickFormat(''))
        .call(styleAxis)
    g.append('g').attr('transform','translate('+p.x0+',0)')
        .call(d3.axisLeft(y).tickValues(p.yt).tickSize(10).tickSizeOuter(0).tickPadding(3).tickFormat(fmtY))
        .call(styleAxis)
    g.append('g').attr('transform','translate('+p.x1+',0)')
        .call(d3.axisRight(y).tickValues(p.yt).tickSize(10).tickSizeOuter(0).tickFormat(''))
        .call(styleAxis)

    //LABELS
    g.append('text')
        .attr('x',(p.x0+p.x1)/2).attr('y',p.y1+46)
        .attr('text-anchor','middle').attr('font-size',17)
        .text(xTitle)
    g.append('text')
        .attr('transform','translate('+p.ylx+','+((p.y0+p.y1)/2)+') rotate(-90)')
        .attr('text-anchor','middle').attr('font-size',18)
        .text(yTitle)
    g.append('text')
        .attr('x',p.x1-10).attr('y',p.y0+28)
        .attr('text-anchor','end').attr('font-size',19)
        .text(panelLabels[i])
}

function drawTitles(){
    let cx = [284, 819]
    let cols = [RED, BLUE]
    titles.forEach((t,i)=>{
        let txt = svg.append('text')
            .attr('x',cx[i]).attr('y',26)
            .attr('text-anchor','middle').attr('font-size',20)
            .style('fill',cols[i])
        txt.append('tspan').text(t)
        txt.append('tspan').attr('dy',5).attr('font-size',14).text(titleSubs[i])
    })
}

function drawInset(p){
    let bx0 = 952, bx1 = 1039, by0 = 486, by1 = 642
    let ix = d3.scaleLinear().domain([0,1]).range([bx0,bx1])
    let iy = d3.scaleLinear().domain([0,1]).range([by1,by0])
    let g = svg.append('g')
    g.append('rect')
        .attr('x',bx0).attr('y',by0).attr('width',bx1-bx0).attr('height',by1-by0)
        .attr('fill','none').attr('stroke','#333').attr('stroke-width',1.5)
    let line = d3.line().x(d=>ix(d[0])).y(d=>iy(d[1]))
    ;[insetLow, insetHigh].forEach(s=>{
        g.append('path').attr('d',line(s))
            .attr('fill','none').attr('stroke',BLUE).attr('stroke-width',2)
    })
    insetLabels.forEach((t,k)=>{
        g.append('text')
            .attr('x',ix(insetLabelPos[k][0])).attr('y',iy(insetLabelPos[k][1]))
            .attr('font-size',15)
            .text(t)
    })
}

</script>
</body>
</html>
